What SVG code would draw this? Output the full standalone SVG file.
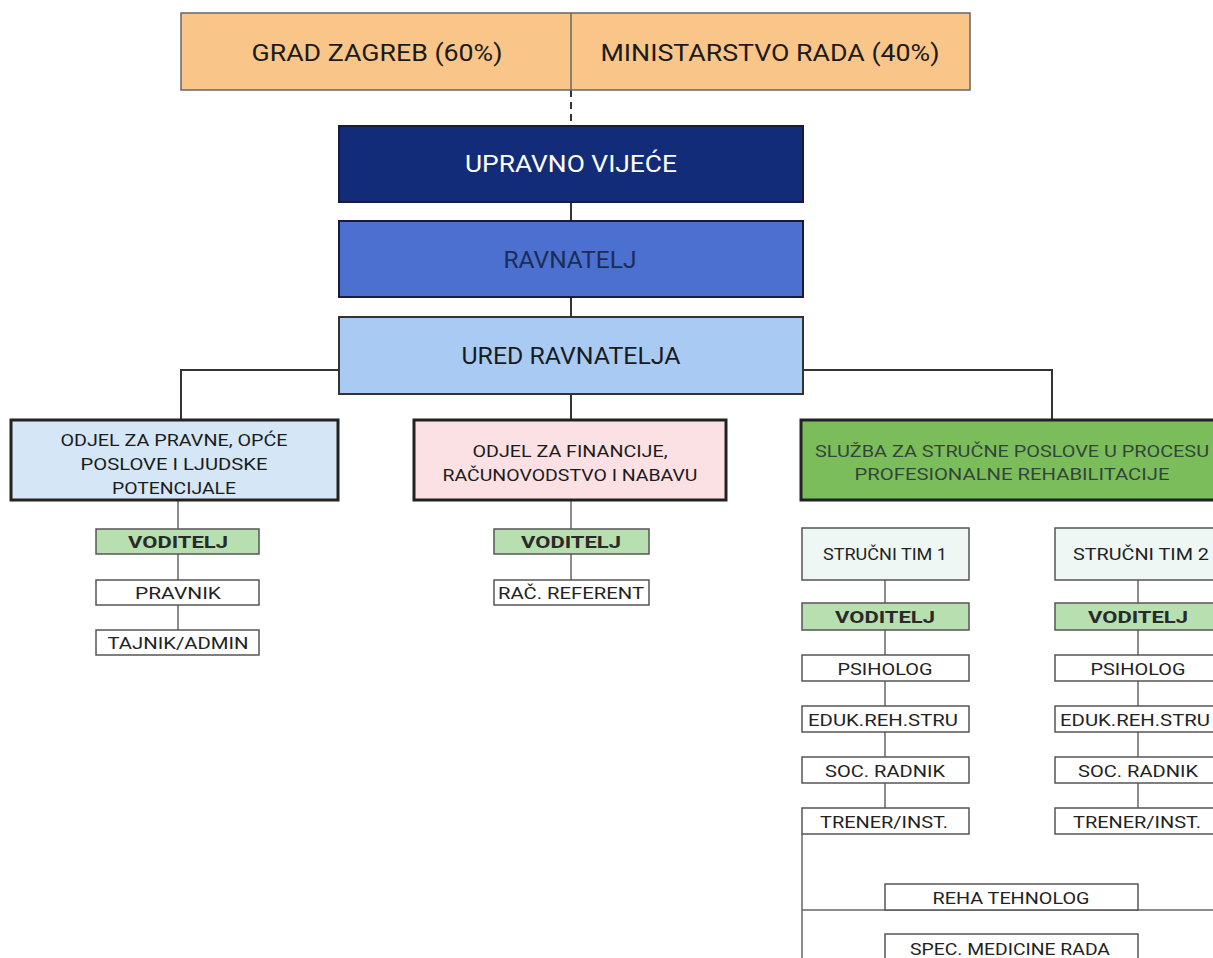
<svg xmlns="http://www.w3.org/2000/svg" width="1213" height="958" viewBox="0 0 1213 958">
<style>
text{font-family:"Roboto","Liberation Sans",sans-serif;text-anchor:middle;fill:#1b1b1b}
.big{font-size:23px}
.mid{font-size:16px}
.sm{font-size:17px;fill:#222}
.bold{font-weight:bold;fill:#2a2a2a}
.thin{stroke:#555;stroke-width:1.5}
.thick{stroke:#222;stroke-width:3}
.line{stroke:#333;stroke-width:2;fill:none}
.lline{stroke:#666;stroke-width:1.5;fill:none}
.white{fill:#fff}
.green{fill:#b7dfb0}
</style>
<rect width="1213" height="958" fill="#fff"/>
<g id="connectors">
<line class="line" x1="571" y1="90" x2="571" y2="126" stroke-dasharray="7,5"/>
<line class="line" x1="571" y1="202" x2="571" y2="221"/>
<line class="line" x1="571" y1="297" x2="571" y2="317"/>
<line class="line" x1="571" y1="394" x2="571" y2="420"/>
<polyline class="line" points="339,370 181,370 181,420"/>
<polyline class="line" points="803,370 1052,370 1052,420"/>
<line class="lline" x1="178" y1="500" x2="178" y2="630"/>
<line class="lline" x1="571" y1="500" x2="571" y2="580"/>
<line class="lline" x1="885" y1="580" x2="885" y2="808"/>
<line class="lline" x1="1138" y1="580" x2="1138" y2="808"/>
<polyline class="lline" points="802,834 802,958"/>
<line class="lline" x1="802" y1="910" x2="1213" y2="910"/>
</g>
<g id="owners">
<rect x="181" y="13" width="789" height="77" fill="#f9c589" stroke="#666" stroke-width="1.5"/>
<line x1="571" y1="13" x2="571" y2="90" stroke="#666" stroke-width="1.5"/>
<text class="big" x="377" y="61" textLength="251" lengthAdjust="spacingAndGlyphs">GRAD ZAGREB (60%)</text>
<text class="big" x="770" y="61" textLength="339" lengthAdjust="spacingAndGlyphs">MINISTARSTVO RADA (40%)</text>
</g>
<g id="upravno">
<rect x="339" y="126" width="464" height="76" fill="#122c7a" stroke="#1a1a3a" stroke-width="2"/>
<text class="big" x="571" y="172" style="fill:#fff" textLength="212" lengthAdjust="spacingAndGlyphs">UPRAVNO VIJEĆE</text>
</g>
<g id="ravnatelj">
<rect x="339" y="221" width="464" height="76" fill="#4b70d0" stroke="#1a1a3a" stroke-width="2"/>
<text class="big" x="570" y="268" style="fill:#1d2c55" textLength="133" lengthAdjust="spacingAndGlyphs">RAVNATELJ</text>
</g>
<g id="ured">
<rect x="339" y="317" width="464" height="77" fill="#a9cbf3" stroke="#333" stroke-width="2"/>
<text class="big" x="571" y="364" textLength="219" lengthAdjust="spacingAndGlyphs">URED RAVNATELJA</text>
</g>
<g id="odjel-pravni">
<rect x="11" y="420" width="327" height="80" fill="#d5e7f6" class="thick"/>
<text class="mid" x="174" y="446" textLength="227" lengthAdjust="spacingAndGlyphs">ODJEL ZA PRAVNE, OPĆE</text>
<text class="mid" x="174" y="470" textLength="187" lengthAdjust="spacingAndGlyphs">POSLOVE I LJUDSKE</text>
<text class="mid" x="174" y="494" textLength="124" lengthAdjust="spacingAndGlyphs">POTENCIJALE</text>
</g>
<g id="odjel-financije">
<rect x="414" y="420" width="312" height="80" fill="#fbe1e3" class="thick"/>
<text class="mid" x="570" y="457" textLength="195" lengthAdjust="spacingAndGlyphs">ODJEL ZA FINANCIJE,</text>
<text class="mid" x="570" y="481" textLength="255" lengthAdjust="spacingAndGlyphs">RAČUNOVODSTVO I NABAVU</text>
</g>
<g id="sluzba">
<rect x="801" y="420" width="420" height="80" fill="#7cbd5b" class="thick"/>
<text class="mid" x="1012" y="457" style="fill:#33453a" textLength="394" lengthAdjust="spacingAndGlyphs">SLUŽBA ZA STRUČNE POSLOVE U PROCESU</text>
<text class="mid" x="1012" y="480" style="fill:#33453a" textLength="315" lengthAdjust="spacingAndGlyphs">PROFESIONALNE REHABILITACIJE</text>
</g>
<g id="l-voditelj"><rect x="96" y="529" width="163" height="25" class="green thin"/><text class="sm bold" x="178" y="548" textLength="100" lengthAdjust="spacingAndGlyphs">VODITELJ</text></g>
<g id="l-pravnik"><rect x="96" y="580" width="163" height="25" class="white thin"/><text class="sm" x="178" y="599" textLength="86" lengthAdjust="spacingAndGlyphs">PRAVNIK</text></g>
<g id="l-tajnik"><rect x="96" y="630" width="163" height="25" class="white thin"/><text class="sm" x="178" y="649" textLength="141" lengthAdjust="spacingAndGlyphs">TAJNIK/ADMIN</text></g>
<g id="m-voditelj"><rect x="494" y="529" width="155" height="25" class="green thin"/><text class="sm bold" x="571" y="548" textLength="100" lengthAdjust="spacingAndGlyphs">VODITELJ</text></g>
<g id="m-ref"><rect x="494" y="580" width="155" height="25" class="white thin"/><text class="sm" x="571" y="599" textLength="146" lengthAdjust="spacingAndGlyphs">RAČ. REFERENT</text></g>
<g id="tim1"><rect x="802" y="528" width="167" height="52" fill="#eef7f4" class="thin"/><text class="sm" x="885" y="560" textLength="124" lengthAdjust="spacingAndGlyphs">STRUČNI TIM 1</text></g>
<g id="t1-voditelj"><rect x="802" y="603" width="167" height="27" class="green thin"/><text class="sm bold" x="885" y="623" textLength="100" lengthAdjust="spacingAndGlyphs">VODITELJ</text></g>
<g id="t1-psiholog"><rect x="802" y="655" width="167" height="26" class="white thin"/><text class="sm" x="885" y="675" textLength="95" lengthAdjust="spacingAndGlyphs">PSIHOLOG</text></g>
<g id="t1-eduk"><rect x="802" y="706" width="167" height="26" class="white thin"/><text class="sm" x="883" y="726" textLength="150" lengthAdjust="spacingAndGlyphs">EDUK.REH.STRU</text></g>
<g id="t1-soc"><rect x="802" y="757" width="167" height="26" class="white thin"/><text class="sm" x="885" y="777" textLength="120" lengthAdjust="spacingAndGlyphs">SOC. RADNIK</text></g>
<g id="t1-trener"><rect x="802" y="808" width="167" height="26" class="white thin"/><text class="sm" x="884" y="828" textLength="128" lengthAdjust="spacingAndGlyphs">TRENER/INST.</text></g>
<g id="tim2"><rect x="1055" y="528" width="170" height="52" fill="#eef7f4" class="thin"/><text class="sm" x="1141" y="560" textLength="136" lengthAdjust="spacingAndGlyphs">STRUČNI TIM 2</text></g>
<g id="t2-voditelj"><rect x="1055" y="603" width="170" height="27" class="green thin"/><text class="sm bold" x="1138" y="623" textLength="100" lengthAdjust="spacingAndGlyphs">VODITELJ</text></g>
<g id="t2-psiholog"><rect x="1055" y="655" width="170" height="26" class="white thin"/><text class="sm" x="1138" y="675" textLength="95" lengthAdjust="spacingAndGlyphs">PSIHOLOG</text></g>
<g id="t2-eduk"><rect x="1055" y="706" width="170" height="26" class="white thin"/><text class="sm" x="1135" y="726" textLength="150" lengthAdjust="spacingAndGlyphs">EDUK.REH.STRU</text></g>
<g id="t2-soc"><rect x="1055" y="757" width="170" height="26" class="white thin"/><text class="sm" x="1138" y="777" textLength="120" lengthAdjust="spacingAndGlyphs">SOC. RADNIK</text></g>
<g id="t2-trener"><rect x="1055" y="808" width="170" height="26" class="white thin"/><text class="sm" x="1137" y="828" textLength="128" lengthAdjust="spacingAndGlyphs">TRENER/INST.</text></g>
<g id="reha"><rect x="885" y="884" width="253" height="26" class="white thin"/><text class="sm" x="1011" y="904" textLength="157" lengthAdjust="spacingAndGlyphs">REHA TEHNOLOG</text></g>
<g id="spec"><rect x="885" y="934" width="253" height="30" class="white thin"/><text class="sm" x="1010" y="955" textLength="200" lengthAdjust="spacingAndGlyphs">SPEC. MEDICINE RADA</text></g>
</svg>
